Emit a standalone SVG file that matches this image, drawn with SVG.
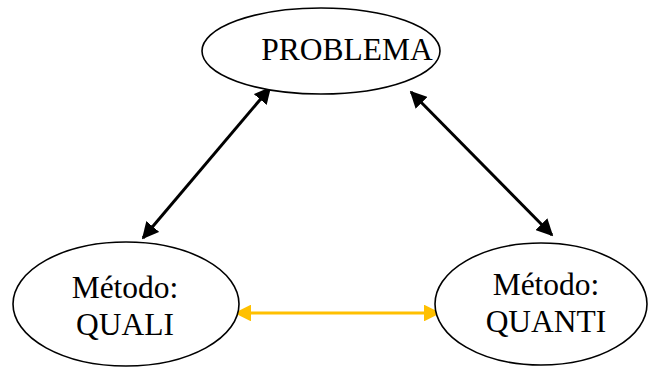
<svg xmlns="http://www.w3.org/2000/svg" width="650" height="367" viewBox="0 0 650 367">
<style>
.node{fill:#fff;stroke:#000;stroke-width:1.6}
.lbl{font-family:"Liberation Serif","Times New Roman",serif;font-size:31.5px;fill:#000;text-anchor:middle}
.blk{stroke:#000;stroke-width:3;fill:none}
.yel{stroke:#FFC000;stroke-width:3;fill:none}
</style>
<defs>
<marker id="ab" viewBox="0 0 10 10" refX="9" refY="5" markerWidth="5.6" markerHeight="5.6" orient="auto-start-reverse" markerUnits="strokeWidth"><path d="M0,0 L10,5 L0,10 z" fill="#000"/></marker>
<marker id="ay" viewBox="0 0 10 10" refX="9" refY="5" markerWidth="5.6" markerHeight="5.6" orient="auto-start-reverse" markerUnits="strokeWidth"><path d="M0,0 L10,5 L0,10 z" fill="#FFC000"/></marker>
</defs>
<g id="connectors">
<line class="blk" x1="270" y1="88" x2="143" y2="238" marker-start="url(#ab)" marker-end="url(#ab)"/>
<line class="blk" x1="411" y1="92" x2="552" y2="235" marker-start="url(#ab)" marker-end="url(#ab)"/>
<line class="yel" x1="236" y1="313" x2="439" y2="313" marker-start="url(#ay)" marker-end="url(#ay)"/>
</g>
<g id="problema">
<ellipse class="node" cx="321" cy="51" rx="119" ry="43"/>
<text class="lbl" x="347" y="60">PROBLEMA</text>
</g>
<g id="quali">
<ellipse class="node" cx="126" cy="304" rx="113" ry="62"/>
<text class="lbl" x="125" y="298">Método:</text>
<text class="lbl" x="125" y="335">QUALI</text>
</g>
<g id="quanti">
<ellipse class="node" cx="541" cy="304" rx="106" ry="61"/>
<text class="lbl" x="546" y="295">Método:</text>
<text class="lbl" x="546" y="332">QUANTI</text>
</g>
</svg>
